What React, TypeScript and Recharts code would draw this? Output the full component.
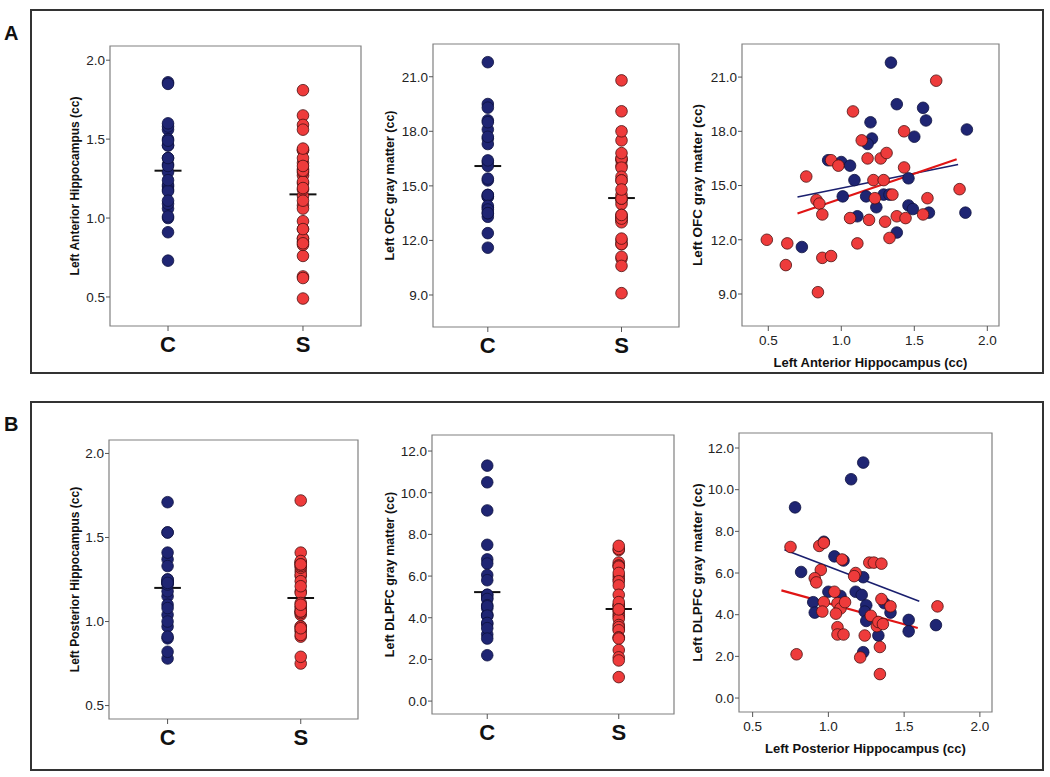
import { ScatterChart, Scatter, XAxis, YAxis, ReferenceLine, ReferenceArea } from "recharts";

const FONT = '"Liberation Sans", Arial, sans-serif';
const BLUE = "#1f2573";
const RED = "#ee3b3b";

const groups = ["C", "S"];

// panel A: left anterior hippocampus vs left OFC gray matter (cc)
const cAntHipp = [1.34, 1.38, 1.56, 1.58, 1.86, 1.2, 1.21, 1.18, 1.5, 1.0, 1.06, 1.09, 1.01, 1.17, 1.29, 1.33, 1.24, 1.11, 1.46, 1.46, 1.49, 1.6, 1.85, 1.38, 0.73, 0.91];
const cOfc = [21.8, 19.5, 19.3, 18.6, 18.1, 18.5, 17.6, 17.3, 17.7, 16.3, 16.1, 15.3, 14.4, 14.4, 14.5, 14.5, 13.8, 13.3, 15.4, 13.9, 13.7, 13.5, 13.5, 12.4, 11.6, 16.4];
const sAntHipp = [1.65, 1.08, 1.14, 1.43, 0.93, 0.98, 1.18, 1.27, 1.31, 1.43, 0.76, 1.22, 1.29, 0.83, 0.85, 1.23, 1.35, 1.59, 1.81, 0.87, 1.06, 1.19, 1.3, 1.38, 1.44, 1.56, 0.49, 0.63, 1.11, 1.33, 0.87, 0.93, 0.84, 0.62];
const sOfc = [20.8, 19.1, 17.5, 18.0, 16.4, 16.1, 16.5, 16.5, 16.8, 16.0, 15.5, 15.3, 15.3, 14.2, 14.0, 14.3, 14.5, 14.3, 14.8, 13.4, 13.2, 13.1, 13.0, 13.3, 13.2, 13.4, 12.0, 11.8, 11.8, 12.1, 11.0, 11.1, 9.1, 10.6];

// panel B: left posterior hippocampus vs left DLPFC gray matter (cc)
const cPostHipp = [1.23, 1.15, 0.78, 0.97, 1.04, 1.1, 0.82, 1.23, 1.18, 1.22, 1.0, 1.08, 0.9, 0.91, 1.25, 1.24, 1.25, 1.37, 1.41, 1.53, 1.53, 1.71, 1.33, 1.23];
const cDlpfc = [11.3, 10.5, 9.15, 7.5, 6.8, 6.6, 6.05, 5.8, 5.1, 4.95, 5.1, 4.9, 4.6, 4.1, 4.45, 4.15, 3.7, 4.55, 4.1, 3.75, 3.2, 3.5, 3.0, 2.2];
const sPostHipp = [0.75, 0.94, 0.97, 1.09, 1.27, 1.3, 1.35, 1.18, 1.17, 0.95, 0.91, 0.92, 1.04, 0.97, 0.96, 1.06, 1.08, 1.11, 1.05, 1.35, 1.41, 1.28, 1.32, 1.33, 1.36, 1.06, 1.06, 1.1, 1.24, 1.34, 0.79, 1.21, 1.34, 1.72];
const sDlpfc = [7.25, 7.3, 7.45, 6.65, 6.5, 6.5, 6.45, 6.0, 5.85, 6.15, 5.75, 5.55, 5.1, 4.6, 4.15, 4.55, 4.3, 4.6, 4.05, 4.75, 4.4, 3.95, 3.45, 3.65, 3.55, 3.4, 3.05, 3.05, 3.0, 2.45, 2.1, 1.95, 1.15, 4.4];

// group means [C, S]
const meanAntHipp = [1.3, 1.15];
const meanOfc = [16.09, 14.33];
const meanPostHipp = [1.2, 1.14];
const meanDlpfc = [5.23, 4.42];

// fit line end points
const fitAntC = [{ x: 0.7, y: 14.37 }, { x: 1.8, y: 16.16 }];
const fitAntS = [{ x: 0.7, y: 13.45 }, { x: 1.79, y: 16.45 }];
const fitPostC = [{ x: 0.71, y: 7.12 }, { x: 1.6, y: 4.64 }];
const fitPostS = [{ x: 0.69, y: 5.17 }, { x: 1.59, y: 3.36 }];

const hippTicks = [0.5, 1.0, 1.5, 2.0];
const ofcTicks = [9, 12, 15, 18, 21];
const dlpfcTicks = [0, 2, 4, 6, 8, 10, 12];

const strip = (vals: number[], g: number) => vals.map((v) => ({ x: g, y: v }));
const pairs = (xs: number[], ys: number[]) => xs.map((x, i) => ({ x, y: ys[i] }));

const dot = (fill: string, stroke: string) => (p: any) =>
  <circle cx={p.cx} cy={p.cy} r={5.8} fill={fill} stroke={stroke} strokeWidth={0.8} />;

const Y_BAND = 70;
const PAD = 10;
const X_BAND = 50;

function Panel(props: any) {
  const { box, xDomain, yDomain, xTicks, yTicks, yLabel, yLabelX, yLabelSize, xLabel, cData, sData, means, fitC, fitS, isStrip } = props;
  const [x0, y0, x1, y1] = box;
  const left = x0 - Y_BAND;
  const top = y0 - PAD;
  const width = x1 - x0 + Y_BAND + PAD;
  const height = y1 - y0 + PAD + X_BAND + PAD;
  return (
    <div style={{ position: "absolute", left, top }}>
      <ScatterChart width={width} height={height} margin={{ top: PAD, right: PAD, left: 0, bottom: PAD }}>
        <XAxis
          type="number"
          dataKey="x"
          domain={xDomain}
          ticks={xTicks}
          interval={0}
          allowDataOverflow
          axisLine={false}
          tickLine={{ stroke: "#555" }}
          tickSize={5}
          tickMargin={isStrip ? 5 : 4}
          height={X_BAND}
          tick={isStrip
            ? { fontSize: 22, fontWeight: 700, fill: "#111", fontFamily: FONT }
            : { fontSize: 13.5, fill: "#222", fontFamily: FONT }}
          tickFormatter={(v: number) => (isStrip ? groups[v - 1] : v.toFixed(1))}
          label={xLabel ? {
            value: xLabel,
            position: "insideBottom",
            offset: 9,
            style: { fontSize: 13, fontWeight: 700, fill: "#111", fontFamily: FONT },
          } : undefined}
        />
        <YAxis
          type="number"
          dataKey="y"
          domain={yDomain}
          ticks={yTicks}
          interval={0}
          allowDataOverflow
          axisLine={false}
          tickLine={{ stroke: "#555" }}
          tickSize={4}
          tickMargin={1}
          width={Y_BAND}
          tick={{ fontSize: 13.5, fill: "#222", fontFamily: FONT }}
          tickFormatter={(v: number) => v.toFixed(1)}
          label={{
            value: yLabel,
            angle: -90,
            position: "insideLeft",
            offset: yLabelX - left,
            textAnchor: "middle",
            style: { fontSize: yLabelSize, fontWeight: 700, fill: "#111", fontFamily: FONT, textAnchor: "middle" },
          }}
        />
        <ReferenceArea x1={xDomain[0]} x2={xDomain[1]} y1={yDomain[0]} y2={yDomain[1]} fill="none" stroke="#808080" strokeWidth={1.2} />
        <Scatter data={cData} shape={dot(BLUE, "#0e1240")} isAnimationActive={false} />
        <Scatter data={sData} shape={dot(RED, "#4a1212")} isAnimationActive={false} />
        {means && means.map((m: number, i: number) => (
          <ReferenceLine key={i} segment={[{ x: i + 0.9, y: m }, { x: i + 1.1, y: m }]} stroke="#111" strokeWidth={2} />
        ))}
        {fitC && <ReferenceLine segment={fitC} stroke="#1a1f6e" strokeWidth={1.6} />}
        {fitS && <ReferenceLine segment={fitS} stroke="#e01515" strokeWidth={2.2} />}
      </ScatterChart>
    </div>
  );
}

export default function App() {
  const frame = { position: "absolute" as const, left: 30, width: 1014, border: "2px solid #333", boxSizing: "border-box" as const };
  const letter = { position: "absolute" as const, left: 4, fontSize: 20, fontWeight: 700, fontFamily: FONT, lineHeight: 1, color: "#111" };
  return (
    <div style={{ position: "absolute", left: 0, top: 0, width: 1050, height: 777, background: "#fff" }}>
      <div style={{ ...frame, top: 9, height: 365 }} />
      <div style={{ ...frame, top: 401, height: 370 }} />
      <div style={{ ...letter, top: 23 }}>A</div>
      <div style={{ ...letter, top: 414 }}>B</div>

      <Panel box={[110, 46, 361, 326]} xDomain={[0.57, 2.43]} yDomain={[0.316, 2.09]} xTicks={[1, 2]} yTicks={hippTicks}
        yLabel="Left Anterior Hippocampus (cc)" yLabelX={75} yLabelSize={12} isStrip
        cData={strip(cAntHipp, 1)} sData={strip(sAntHipp, 2)} means={meanAntHipp} />
      <Panel box={[433, 44, 679, 327]} xDomain={[0.59, 2.43]} yDomain={[7.24, 22.8]} xTicks={[1, 2]} yTicks={ofcTicks}
        yLabel="Left OFC gray matter (cc)" yLabelX={390} yLabelSize={12.5} isStrip
        cData={strip(cOfc, 1)} sData={strip(sOfc, 2)} means={meanOfc} />
      <Panel box={[742, 44, 999, 326]} xDomain={[0.32, 2.08]} yDomain={[7.23, 22.83]} xTicks={hippTicks} yTicks={ofcTicks}
        yLabel="Left OFC gray matter (cc)" yLabelX={697} yLabelSize={13.5} xLabel="Left Anterior Hippocampus (cc)"
        cData={pairs(cAntHipp, cOfc)} sData={pairs(sAntHipp, sOfc)} fitC={fitAntC} fitS={fitAntS} />

      <Panel box={[109, 440, 358, 719]} xDomain={[0.56, 2.43]} yDomain={[0.42, 2.08]} xTicks={[1, 2]} yTicks={hippTicks}
        yLabel="Left Posterior Hippocampus (cc)" yLabelX={75} yLabelSize={12} isStrip
        cData={strip(cPostHipp, 1)} sData={strip(sPostHipp, 2)} means={meanPostHipp} />
      <Panel box={[432, 435, 674, 714]} xDomain={[0.58, 2.42]} yDomain={[-0.62, 12.77]} xTicks={[1, 2]} yTicks={dlpfcTicks}
        yLabel="Left DLPFC gray matter (cc)" yLabelX={390} yLabelSize={12.5} isStrip
        cData={strip(cDlpfc, 1)} sData={strip(sDlpfc, 2)} means={meanDlpfc} />
      <Panel box={[739, 433, 992, 712]} xDomain={[0.41, 2.08]} yDomain={[-0.67, 12.72]} xTicks={hippTicks} yTicks={dlpfcTicks}
        yLabel="Left DLPFC gray matter (cc)" yLabelX={697} yLabelSize={13.5} xLabel="Left Posterior Hippocampus (cc)"
        cData={pairs(cPostHipp, cDlpfc)} sData={pairs(sPostHipp, sDlpfc)} fitC={fitPostC} fitS={fitPostS} />
    </div>
  );
}
